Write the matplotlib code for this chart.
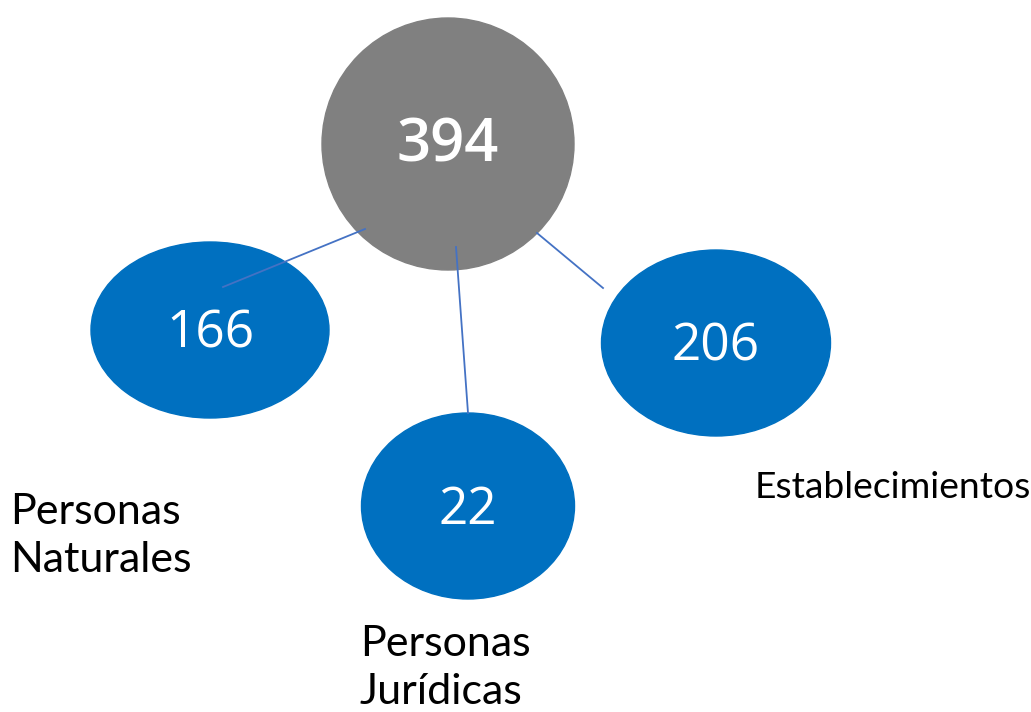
import matplotlib.pyplot as plt
from matplotlib.patches import Ellipse

plt.rcParams['font.family'] = ['Open Sans', 'DejaVu Sans']

TOTAL = 394
LABELS = ['Personas\nNaturales', 'Personas\nJurídicas', 'Establecimientos']
VALUES = [166, 22, 206]

GRAY = '#808080'
BLUE = '#0070C0'
LINE = '#4472C4'

fig = plt.figure(figsize=(10.31, 7.12), dpi=100)
ax = fig.add_axes([0, 0, 1, 1])
ax.set_xlim(0, 1031)
ax.set_ylim(712, 0)
ax.axis('off')

# layout (pixel coordinates): centre, width, height of each bubble
hub = dict(xy=(448, 144), w=252, h=252)
nodes = [
    dict(xy=(210, 330), w=238, h=176, lab_xy=(10, 536), lab_size=31),
    dict(xy=(468, 506), w=213, h=186, lab_xy=(360, 668), lab_size=31),
    dict(xy=(716, 343), w=229, h=186, lab_xy=(755, 487), lab_size=26.8),
]
links = [((223, 287), (365, 229)), ((456, 247), (468, 413)), ((537, 233), (603, 288))]

ax.add_patch(Ellipse(hub['xy'], hub['w'], hub['h'], color=GRAY, zorder=1))
ax.text(hub['xy'][0], hub['xy'][1] + 2, str(TOTAL), color='white', fontsize=43,
        fontweight='semibold', ha='center', va='center', zorder=4)

for node, val, lab in zip(nodes, VALUES, LABELS):
    ax.add_patch(Ellipse(node['xy'], node['w'], node['h'], color=BLUE, zorder=2))
    ax.text(node['xy'][0], node['xy'][1] + 4, str(val), color='white', fontsize=37,
            ha='center', va='center', zorder=4)
    ax.text(node['lab_xy'][0], node['lab_xy'][1], lab, color='black',
            fontsize=node['lab_size'], family=['Lato', 'DejaVu Sans'],
            ha='left', va='center', linespacing=1.3)

for (x0, y0), (x1, y1) in links:
    ax.plot([x0, x1], [y0, y1], color=LINE, linewidth=1.3, zorder=3)

fig.savefig('out.png', dpi=100)
